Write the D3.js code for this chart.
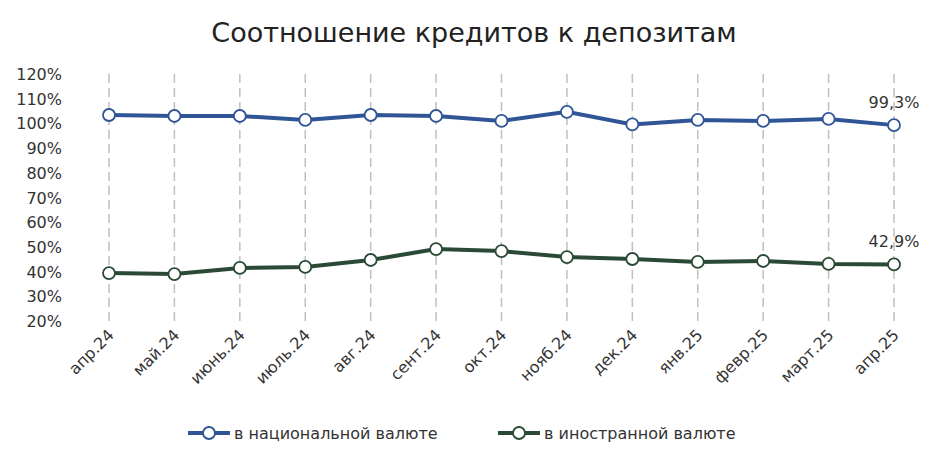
<!DOCTYPE html>
<html><head><meta charset="utf-8">
<script src="https://cdn.jsdelivr.net/npm/d3@7"></script>
<style>body{margin:0;background:#fff;font-family:"DejaVu Sans",sans-serif;}</style>
</head><body><svg id="chart" width="948" height="462"></svg>
<script>
const months = ["апр.24","май.24","июнь.24","июль.24","авг.24","сент.24","окт.24","нояб.24","дек.24","янв.25","февр.25","март.25","апр.25"];
const national = [103.4,103.0,103.0,101.4,103.4,103.0,101.0,104.7,99.6,101.4,101.0,101.8,99.3];
const foreign = [39.4,39.0,41.5,41.9,44.7,49.1,48.3,45.9,45.1,43.9,44.3,43.1,42.9];
const yTicks = [20,30,40,50,60,70,80,90,100,110,120];
const seriesNames = ["в национальной валюте","в иностранной валюте"];
const colors = ["#2f5597","#2b4a36"];

const svg = d3.select("#chart").attr("font-family","'DejaVu Sans',sans-serif");
const x = d3.scalePoint().domain(months).range([109,894]);
const y = d3.scaleLinear().domain([20,120]).range([321,74]);

svg.append("text").attr("x",474).attr("y",42).attr("text-anchor","middle")
	.attr("font-size",27).attr("fill","#222").text("Соотношение кредитов к депозитам");

// y tick labels
svg.selectAll(".yt").data(yTicks).join("text")
	.attr("x",62).attr("y",d => y(d)+6).attr("text-anchor","end")
	.attr("font-size",16).attr("fill","#333").text(d => d + "%");

// dashed drop lines
svg.selectAll(".drop").data(months).join("line")
	.attr("x1",d => x(d)).attr("x2",d => x(d))
	.attr("y1",y(120)).attr("y2",y(20))
	.attr("stroke","#bfbfbf").attr("stroke-width",1.5).attr("stroke-dasharray","9,5");

// x labels
svg.selectAll(".xl").data(months).join("text")
	.attr("transform",d => `translate(${x(d)+6},${336}) rotate(-45)`)
	.attr("text-anchor","end").attr("font-size",16).attr("fill","#333").text(d => d);

const line = d3.line().x((d,i) => x(months[i])).y(d => y(d));
[national, foreign].forEach((data,k) => {
	svg.append("path").datum(data).attr("d",line).attr("fill","none")
		.attr("stroke",colors[k]).attr("stroke-width",4);
	svg.selectAll(".p"+k).data(data).join("circle")
		.attr("cx",(d,i) => x(months[i])).attr("cy",d => y(d)).attr("r",6)
		.attr("fill","#fff").attr("stroke",colors[k]).attr("stroke-width",1.8);
	const last = data[data.length-1];
	svg.append("text").attr("x",x(months[12])).attr("y",y(last)-17)
		.attr("text-anchor","middle").attr("font-size",16).attr("fill","#333")
		.text(last.toFixed(1).replace(".",",") + "%");
});

// legend
const lg = [{x:188,name:seriesNames[0]},{x:498,name:seriesNames[1]}];
lg.forEach((l,k) => {
	svg.append("line").attr("x1",l.x).attr("x2",l.x+42).attr("y1",433).attr("y2",433)
		.attr("stroke",colors[k]).attr("stroke-width",4);
	svg.append("circle").attr("cx",l.x+21).attr("cy",433).attr("r",6)
		.attr("fill","#fff").attr("stroke",colors[k]).attr("stroke-width",1.8);
	svg.append("text").attr("x",l.x+46).attr("y",439).attr("font-size",16)
		.attr("fill","#333").text(l.name);
});
</script></body></html>
